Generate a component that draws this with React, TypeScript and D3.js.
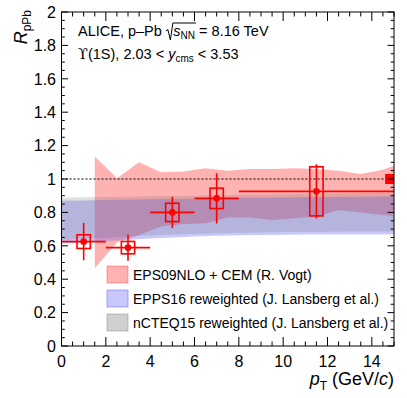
import React, { useRef, useEffect } from 'react';
import * as d3 from 'd3';

// ALICE Upsilon(1S) R_pPb vs pT
const PT = [1, 3, 5, 7, 11.5];
const PT_LO = [0, 2, 4, 6, 8];
const PT_HI = [2, 4, 6, 8, 15];
const RPPB = [0.625, 0.589, 0.8, 0.884, 0.926];
const STAT = [0.112, 0.078, 0.093, 0.151, 0.162];
const SYST = [0.041, 0.037, 0.055, 0.061, 0.147];

// EPS09NLO + CEM (R. Vogt)
const EPS_PT = [1.5, 2.5, 3.5, 4.5, 5.5, 6.5, 7.5, 8.5, 9.5, 10.5, 11.5, 12.5, 13.5, 14.5, 15];
const EPS_HI = [1.134, 1.005, 1.1, 1.04, 1.045, 1.065, 1.05, 1.06, 1.06, 1.065, 1.06, 1.05, 1.03, 1.055, 1.08];
const EPS_LO = [0.465, 0.62, 0.665, 0.715, 0.73, 0.735, 0.77, 0.77, 0.755, 0.765, 0.775, 0.815, 0.8, 0.785, 0.78];

// reweighted nPDF bands (J. Lansberg et al.)
const TH_PT = [0, 1, 2, 3, 4, 5, 6, 7, 8, 9, 10, 11, 12, 13, 14, 15];
const EPPS_LO = [0.615, 0.62, 0.628, 0.636, 0.644, 0.65, 0.655, 0.66, 0.663, 0.665, 0.666, 0.667, 0.667, 0.668, 0.668, 0.668];
const EPPS_HI = [0.87, 0.872, 0.874, 0.876, 0.878, 0.88, 0.882, 0.884, 0.886, 0.887, 0.889, 0.89, 0.891, 0.893, 0.894, 0.895];
const NCTEQ_LO = [0.635, 0.64, 0.648, 0.655, 0.662, 0.667, 0.671, 0.675, 0.678, 0.68, 0.682, 0.683, 0.684, 0.685, 0.686, 0.686];
const NCTEQ_HI = [0.888, 0.89, 0.892, 0.894, 0.896, 0.898, 0.9, 0.902, 0.904, 0.906, 0.908, 0.91, 0.912, 0.914, 0.916, 0.918];

const GLOBAL_UNC = 0.03;
const LEGEND = ['EPS09NLO + CEM (R. Vogt)', 'EPPS16 reweighted (J. Lansberg et al.)', 'nCTEQ15 reweighted (J. Lansberg et al.)'];

const FONT = '"Liberation Sans", Arial, Helvetica, sans-serif';
const RED = '#ff0000';
const PINK = 'rgba(255,0,0,0.3)';
const BLUE = 'rgba(97,97,240,0.35)';
const GRAY = 'rgba(100,100,100,0.2)';
const NB = '\u00a0';

const W = 407;
const H = 398;

const App = () => {
  const svgRef = useRef(null);

  useEffect(() => {
    const svg = d3.select(svgRef.current);
    svg.selectAll('*').remove();
    svg.style('font-family', FONT);

    const x = d3.scaleLinear().domain([0, 15]).range([61.5, 394]);
    const y = d3.scaleLinear().domain([0, 2]).range([346, 12]);

    svg.append('clipPath').attr('id', 'frame')
      .append('rect').attr('x', 61.5).attr('y', 12).attr('width', 332.5).attr('height', 334);

    const plot = svg.append('g').attr('clip-path', 'url(#frame)');

    // theory bands
    const band = (xs, lo, hi) =>
      d3.area().x((d, i) => x(xs[i])).y0((d, i) => y(lo[i])).y1((d, i) => y(hi[i]))(xs);

    plot.append('path').attr('d', band(EPS_PT, EPS_LO, EPS_HI)).attr('fill', PINK);
    plot.append('path').attr('d', band(TH_PT, EPPS_LO, EPPS_HI)).attr('fill', BLUE);
    plot.append('path').attr('d', band(TH_PT, NCTEQ_LO, NCTEQ_HI)).attr('fill', GRAY);

    // unity line
    plot.append('line')
      .attr('x1', x(0)).attr('x2', x(15)).attr('y1', y(1)).attr('y2', y(1))
      .attr('stroke', '#000').attr('stroke-width', 1.2).attr('stroke-dasharray', '2,2');

    // global uncertainty
    plot.append('rect')
      .attr('x', x(14.6)).attr('width', x(15) - x(14.6))
      .attr('y', y(1 + GLOBAL_UNC)).attr('height', y(1 - GLOBAL_UNC) - y(1 + GLOBAL_UNC))
      .attr('fill', RED);

    // data
    const pts = plot.append('g');
    PT.forEach((p, i) => {
      const g = pts.append('g');
      g.append('rect')
        .attr('x', x(p - 0.3)).attr('width', x(p + 0.3) - x(p - 0.3))
        .attr('y', y(RPPB[i] + SYST[i])).attr('height', y(RPPB[i] - SYST[i]) - y(RPPB[i] + SYST[i]))
        .attr('fill', 'none').attr('stroke', RED).attr('stroke-width', 1.6);
      g.append('line')
        .attr('x1', x(PT_LO[i])).attr('x2', x(PT_HI[i])).attr('y1', y(RPPB[i])).attr('y2', y(RPPB[i]))
        .attr('stroke', RED).attr('stroke-width', 1.6);
      g.append('line')
        .attr('x1', x(p)).attr('x2', x(p)).attr('y1', y(RPPB[i] + STAT[i])).attr('y2', y(RPPB[i] - STAT[i]))
        .attr('stroke', RED).attr('stroke-width', 1.6);
      g.append('circle').attr('cx', x(p)).attr('cy', y(RPPB[i])).attr('r', 3.3).attr('fill', RED);
    });

    // frame and ticks
    const axes = svg.append('g').attr('stroke', '#000').attr('stroke-width', 1);
    axes.append('rect').attr('x', 61.5).attr('y', 12).attr('width', 332.5).attr('height', 334).attr('fill', 'none');

    d3.range(0, 15.01, 0.5).forEach(v => {
      const major = Math.abs(v / 2 - Math.round(v / 2)) < 1e-6;
      const len = major ? 9 : 4.5;
      axes.append('line').attr('x1', x(v)).attr('x2', x(v)).attr('y1', y(0)).attr('y2', y(0) - len);
      axes.append('line').attr('x1', x(v)).attr('x2', x(v)).attr('y1', y(2)).attr('y2', y(2) + len);
    });
    d3.range(0, 2.001, 0.05).forEach(v => {
      const major = Math.abs(v / 0.2 - Math.round(v / 0.2)) < 1e-6;
      const len = major ? 6.5 : 3.3;
      axes.append('line').attr('x1', x(0)).attr('x2', x(0) + len).attr('y1', y(v)).attr('y2', y(v));
      axes.append('line').attr('x1', x(15)).attr('x2', x(15) - len).attr('y1', y(v)).attr('y2', y(v));
    });

    // tick labels
    const fmt = d3.format('~g');
    svg.append('g').selectAll('text').data(d3.range(0, 15, 2)).enter().append('text')
      .attr('x', d => x(d)).attr('y', 367).attr('text-anchor', 'middle')
      .attr('font-size', 16).text(d => fmt(d));
    svg.append('g').selectAll('text').data(d3.range(0, 2.001, 0.2)).enter().append('text')
      .attr('x', 56).attr('y', d => y(d)).attr('dy', '0.36em').attr('text-anchor', 'end')
      .attr('font-size', 16).text(d => fmt(+d.toFixed(1)));

    // axis titles
    const yt = svg.append('text').attr('transform', 'translate(27,10) rotate(-90)').attr('text-anchor', 'end');
    yt.append('tspan').attr('font-size', 18).attr('font-style', 'italic').text('R');
    yt.append('tspan').attr('font-size', 12).attr('dy', 4).text('pPb');

    const xt = svg.append('text').attr('x', 394).attr('y', 385).attr('text-anchor', 'end').attr('font-size', 18);
    xt.append('tspan').attr('font-style', 'italic').text('p');
    xt.append('tspan').attr('font-size', 12).attr('dy', 5).text('T');
    xt.append('tspan').attr('dy', -5).text(NB + '(GeV/');
    xt.append('tspan').attr('font-style', 'italic').text('c');
    xt.append('tspan').text(')');

    // header text laid out in runs
    const runs = (x0, y0, parts) => {
      let cx = x0;
      return parts.map(p => {
        const t = svg.append('text').attr('x', cx).attr('y', y0 + (p.dy || 0))
          .attr('font-size', p.size).attr('font-style', p.italic ? 'italic' : 'normal')
          .attr('font-family', p.family || FONT).text(p.t);
        const start = cx;
        cx += (p.t ? t.node().getComputedTextLength() : 0) + (p.gap || 0);
        return { start, end: cx };
      });
    };

    const fs = 14.5;
    const by1 = 36;
    const r1 = runs(78, by1, [
      { t: 'ALICE, p\u2013Pb' + NB, size: fs },
      { t: '', size: fs, gap: 7.5 },
      { t: 's', size: fs, italic: true },
      { t: 'NN', size: 10, dy: 3 },
      { t: NB + '=' + NB + '8.16 TeV', size: fs }
    ]);
    const rx = r1[1].start;
    svg.append('path')
      .attr('d', `M${rx},${by1 - 5} L${rx + 2},${by1 - 6.5} L${rx + 4.5},${by1 + 4} L${rx + 7},${by1 - 13} L${r1[3].end + 1},${by1 - 13}`)
      .attr('fill', 'none').attr('stroke', '#000').attr('stroke-width', 1);

    runs(78, 59, [
      { t: '\u03d2', size: fs, family: '"DejaVu Serif", serif' },
      { t: '(1S), 2.03' + NB + '<' + NB, size: fs },
      { t: 'y', size: fs, italic: true },
      { t: 'cms', size: 10, dy: 3 },
      { t: NB + '<' + NB + '3.53', size: fs }
    ]);

    // legend
    const legFills = [PINK, BLUE, 'rgba(100,100,100,0.3)'];
    const legStrokes = ['rgba(255,0,0,0.3)', 'rgba(97,97,240,0.5)', 'rgba(100,100,100,0.35)'];
    const leg = svg.append('g');
    LEGEND.forEach((label, i) => {
      const cy = 274.5 + i * 24;
      leg.append('rect').attr('x', 107).attr('y', cy - 8.5).attr('width', 21).attr('height', 17)
        .attr('fill', legFills[i]).attr('stroke', legStrokes[i]).attr('stroke-width', 1);
      leg.append('text').attr('x', 133).attr('y', cy).attr('dy', '0.36em')
        .attr('font-size', 14).text(label);
    });
  }, []);

  return (
    <div>
      <svg ref={svgRef} width={W} height={H} style={{ position: 'absolute', left: 0, top: 0, background: '#fff' }} />
    </div>
  );
};

export default App;
